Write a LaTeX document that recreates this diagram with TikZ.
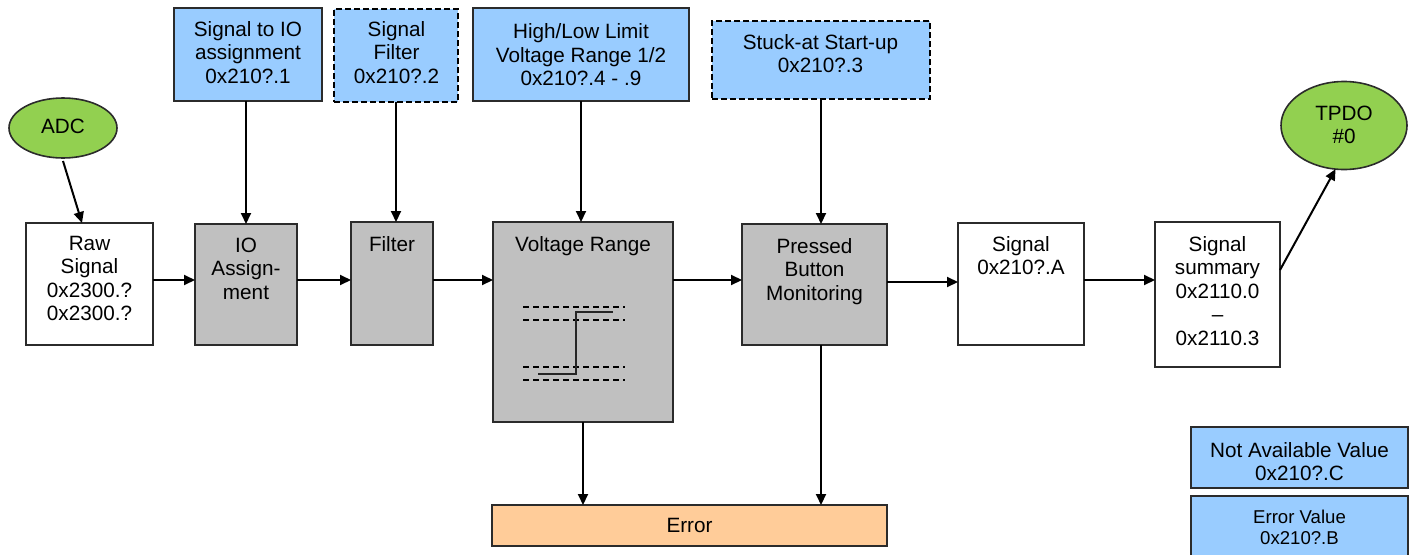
\documentclass[tikz,border=0pt]{standalone}
\usepackage{fontspec}
\setmainfont{Liberation Sans}
\usetikzlibrary{arrows.meta,shapes.geometric}

\definecolor{paramblue}{HTML}{99CCFF}
\definecolor{procgray}{HTML}{C0C0C0}
\definecolor{termgreen}{HTML}{92D050}
\definecolor{errorange}{HTML}{FFCC99}
\definecolor{edgegray}{HTML}{2B2B2B}

\begin{document}
\begin{tikzpicture}[x=1pt,y=-1pt,
  font=\fontsize{20.7}{23.5}\selectfont,
  box/.style={draw=edgegray,line width=1.6pt,inner sep=0pt,outer sep=0pt},
  param/.style={box,fill=paramblue},
  optparam/.style={param,draw=black,line width=1.8pt,dash pattern=on 6pt off 3pt},
  proc/.style={box,fill=procgray},
  store/.style={box,fill=white},
  term/.style={box,ellipse,fill=termgreen},
  sink/.style={box,fill=errorange},
  txt/.style={anchor=north,align=center,inner sep=0pt,text=black},
  flow/.style={draw=black,line width=2pt,-{Triangle[length=11pt,width=10pt]}},
  ref/.style={draw=black,line width=1.3pt,dash pattern=on 6pt off 4pt},
  trace/.style={draw=black!85,line width=2pt}
]
\useasboundingbox (0,0) rectangle (1415,554);

% parameter boxes along the top
\node[param,minimum width=148pt,minimum height=93pt] (sigio) at (248,54.5) {};
\node[optparam,minimum width=124pt,minimum height=93pt] (sigfilt) at (396,55.5) {};
\node[param,minimum width=216pt,minimum height=93pt] (hilo) at (581,54.5) {};
\node[optparam,minimum width=218pt,minimum height=78pt] (stuck) at (821,60) {};

\node[txt] (sigio-t) at (248,20.8) {Signal to IO\\assignment\\0x210?.1};
\node[txt] (sigfilt-t) at (396.5,20.8) {Signal\\Filter\\0x210?.2};
\node[txt] (hilo-t) at (581,23.5) {High/Low Limit\\Voltage Range 1/2\\0x210?.4 - .9};
\node[txt] (stuck-t) at (820.5,33.8) {Stuck-at Start-up\\0x210?.3};

% source and destination terminals
\node[term,minimum width=108pt,minimum height=60pt] (adc) at (63,128) {};
\node[txt] (adc-t) at (63,118.8) {ADC};
\node[term,minimum width=126pt,minimum height=88pt] (tpdo) at (1344,125.5) {};
\node[txt] (tpdo-t) at (1344,105.8) {TPDO\\\#0};

% processing chain
\node[store,minimum width=127pt,minimum height=122pt] (raw) at (89.5,284) {};
\node[proc,minimum width=102pt,minimum height=121pt] (io) at (246,284.5) {};
\node[proc,minimum width=82pt,minimum height=123pt] (filter) at (392,283.5) {};
\node[proc,minimum width=180pt,minimum height=200pt] (volt) at (583,322) {};
\node[proc,minimum width=145pt,minimum height=121pt] (press) at (814.5,284.5) {};
\node[store,minimum width=126pt,minimum height=122pt] (sigA) at (1021,284) {};
\node[store,minimum width=125pt,minimum height=145pt] (summ) at (1217.5,294.5) {};

\node[txt] (raw-t) at (89.5,235.8) {Raw\\Signal\\0x2300.?\\0x2300.?};
\node[txt] (io-t) at (246,237.8) {IO\\Assign-\\ment};
\node[txt] (filter-t) at (392,235.8) {Filter};
\node[txt] (volt-t) at (583,235.8) {Voltage Range};
\node[txt] (press-t) at (814.5,237.8) {Pressed\\Button\\Monitoring};
\node[txt] (sigA-t) at (1021,235.8) {Signal\\0x210?.A};
\node[txt] (summ-t) at (1217.5,235.8) {Signal\\summary\\0x2110.0\\–\\0x2110.3};

% limit bands and signal step inside the voltage range block
\draw[ref] (523,307) -- (625,307);
\draw[ref] (523,320) -- (625,320);
\draw[ref] (523,367) -- (625,367);
\draw[ref] (523,380) -- (625,380);
\draw[trace] (538,374) -- (576,374) -- (576,312) -- (613,312);

% error sink and substitute values
\node[sink,minimum width=395pt,minimum height=41pt] (error) at (689.5,525.5) {};
\node[txt] (error-t) at (689.5,517.8) {Error};
\node[param,minimum width=217pt,minimum height=61pt] (na) at (1299.5,457.5) {};
\node[txt] (na-t) at (1299.5,441.8) {Not Available Value\\0x210?.C};
\node[param,minimum width=217pt,minimum height=66pt] (errval) at (1299.5,529) {};
\node[txt,font=\fontsize{18.6}{21.7}\selectfont] (errval-t) at (1299.5,509.6) {Error Value\\0x210?.B};

% connectors
\coordinate (rowA) at (0,280);
\coordinate (rowB) at (0,282);
\draw[flow] ([yshift=-3pt]adc.south) -- ([xshift=-7.5pt]raw.north);
\draw[flow] (raw.east |- rowA) -- (io.west |- rowA);
\draw[flow] (io.east |- rowA) -- (filter.west |- rowA);
\draw[flow] (filter.east |- rowA) -- (volt.west |- rowA);
\draw[flow] (volt.east |- rowA) -- (press.west |- rowA);
\draw[flow] (press.east |- rowB) -- (sigA.west |- rowB);
\draw[flow] (sigA.east |- rowA) -- (summ.west |- rowA);
\draw[flow] ([yshift=24.5pt]summ.east) -- (tpdo.259);

\draw[flow] (sigio.south -| io.north) -- (io.north);
\draw[flow] (sigfilt.south) -- (sigfilt.south |- filter.north);
\draw[flow] (hilo.south) -- (hilo.south |- volt.north);
\draw[flow] (stuck.south) -- (stuck.south |- press.north);

\draw[flow] (volt.south) -- (volt.south |- error.north);
\draw[flow] (press.south -| stuck.south) -- (error.north -| stuck.south);
\end{tikzpicture}
\end{document}
